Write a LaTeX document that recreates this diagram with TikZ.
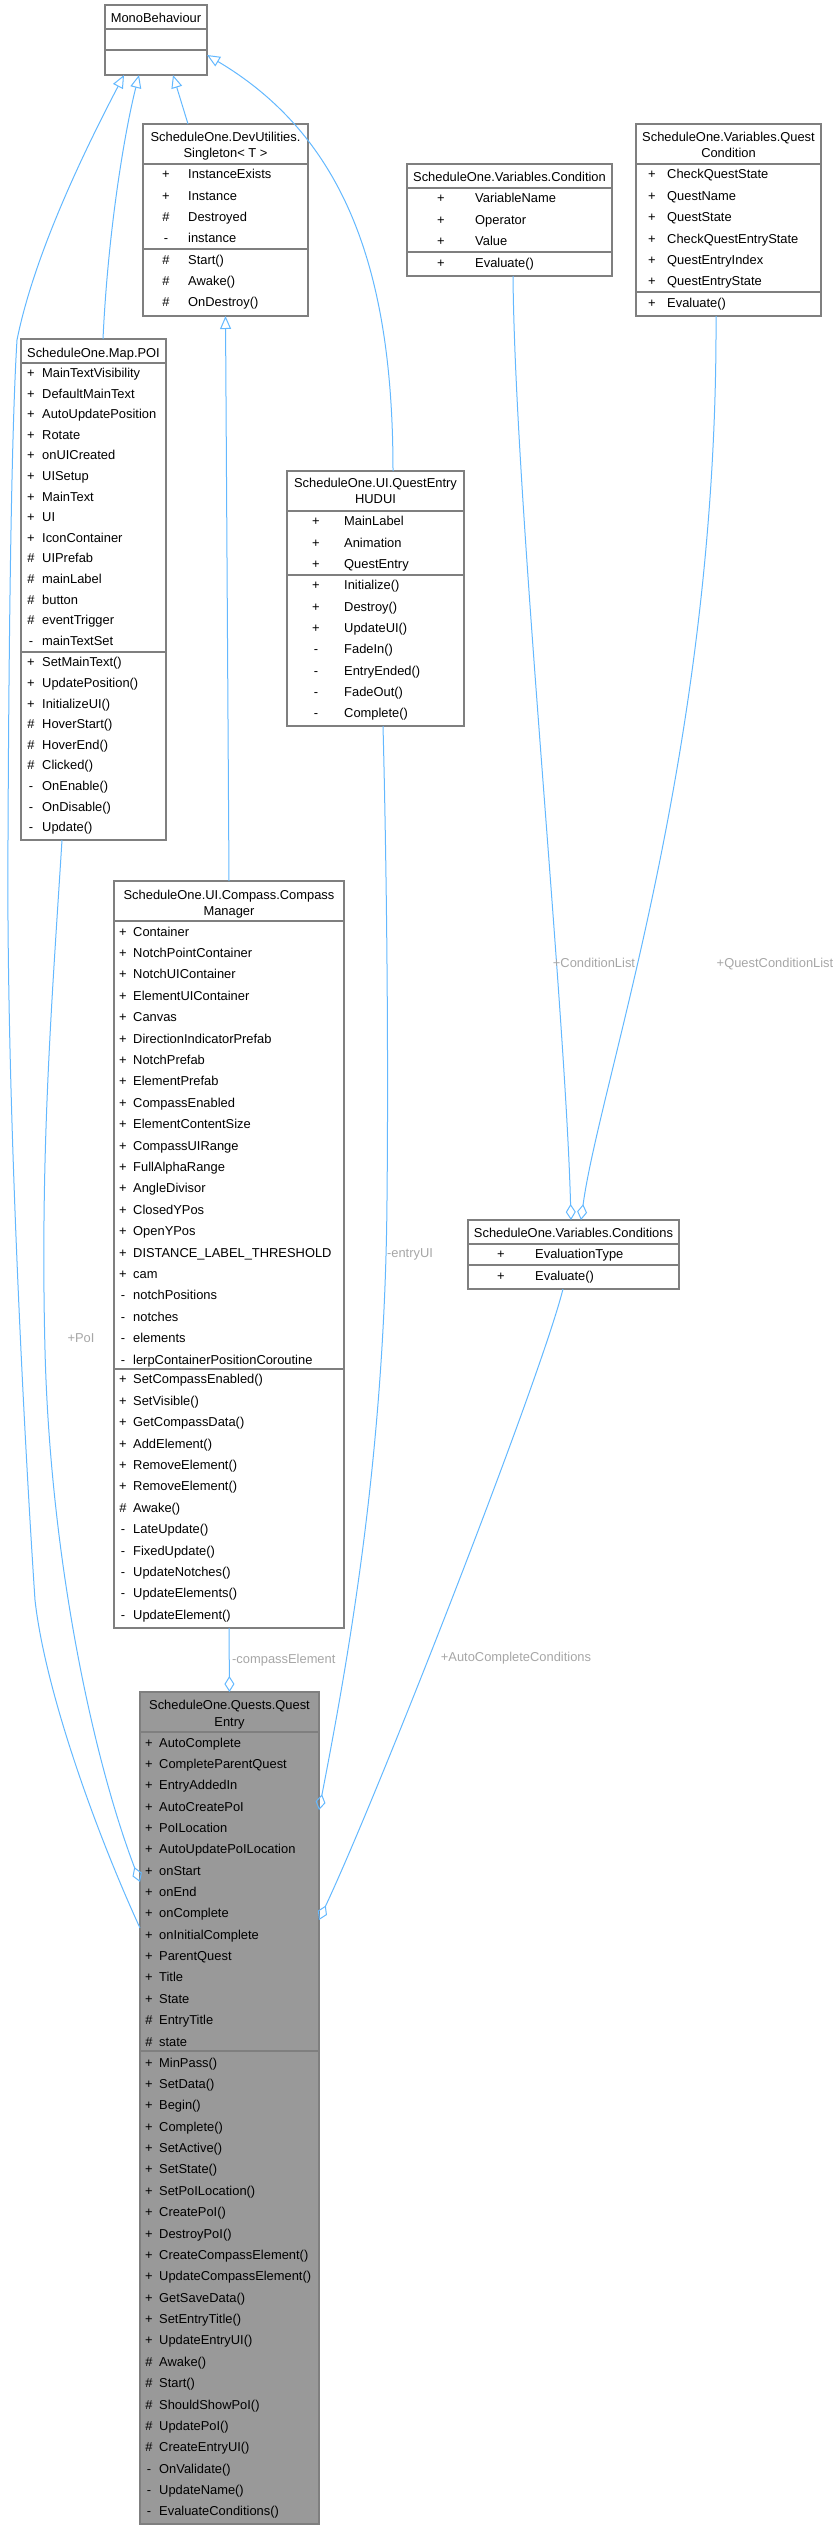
\documentclass[tikz,border=0pt]{standalone}
\usepackage{fontspec}
\setmainfont{Liberation Sans}
\usetikzlibrary{arrows.meta}
\definecolor{edgeblue}{HTML}{63B8FF}
\definecolor{boxgray}{HTML}{7F7F7F}
\definecolor{qefill}{HTML}{999999}
\definecolor{lblgray}{HTML}{A6A6A6}
\newcommand{\clsbox}[6]{\node[#6, anchor=north west, minimum width={#4-#2}, minimum height={#5-#3}] (#1) at (#2,#3) {};}
\newcommand{\sepline}[3]{\draw[sepst] (#1,#3) -- (#2,#3);}
\newcommand{\rows}[6]{\foreach[count=\ri from 0] \sy/\tx in {#5}{\node[rowst,anchor=base] (#6s\ri) at ({#1},{#3+\ri*#4+4.8}) {\sy}; \node[rowst,anchor=base west] (#6t\ri) at ({#2},{#3+\ri*#4+4.8}) {\tx};}}
\newcommand{\ttl}[4]{\node[rowst,anchor=base] (#1) at ({#2},{#3+4.8}) {#4};}
\tikzset{
  box/.style={draw=boxgray, fill=white, line width=1.2, inner sep=0, outer sep=0},
  qebox/.style={box, fill=qefill},
  sepst/.style={draw=boxgray, line width=1.2},
  rowst/.style={font=\fontsize{12.9}{15}\selectfont, inner sep=0, text=black},
  lbl/.style={font=\fontsize{12.9}{15}\selectfont, inner sep=0, text=lblgray, anchor=base},
  inh/.style={draw=edgeblue, line width=1, -{Triangle[open, length=13, width=11]}},
  agg/.style={draw=edgeblue, line width=1, {Diamond[open, length=16, width=10]}-},
}
\begin{document}
\begin{tikzpicture}[x=1pt, y=-1pt]
\useasboundingbox (0,0) rectangle (840,2529);

% ---------- boxes ----------
\clsbox{mono}{105}{5}{207}{75}{box}
\sepline{105}{207}{29}\sepline{105}{207}{50}
\ttl{monot}{156}{18}{MonoBehaviour}

\clsbox{sing}{143}{124}{308}{316}{box}
\sepline{143}{308}{164}\sepline{143}{308}{249}
\ttl{singt1}{225.5}{137}{ScheduleOne.DevUtilities.}
\ttl{singt2}{225.5}{153}{Singleton< T >}
\rows{166}{188}{174}{21.3}{+/InstanceExists,+/Instance,\#/Destroyed,-/instance}{singa}
\rows{166}{188}{259.3}{21.3}{\#/Start(),\#/Awake(),\#/OnDestroy()}{singm}

\clsbox{cond}{407}{164}{612}{276}{box}
\sepline{407}{612}{188}\sepline{407}{612}{252}
\ttl{condt}{509.5}{177}{ScheduleOne.Variables.Condition}
\rows{441}{475}{198}{21.5}{+/VariableName,+/Operator,+/Value}{conda}
\rows{441}{475}{263}{21.5}{+/Evaluate()}{condm}

\clsbox{qc}{636}{124}{821}{316}{box}
\sepline{636}{821}{164}\sepline{636}{821}{292}
\ttl{qct1}{728.5}{137}{ScheduleOne.Variables.Quest}
\ttl{qct2}{728.5}{153}{Condition}
\rows{652}{667}{174}{21.4}{+/CheckQuestState,+/QuestName,+/QuestState,+/CheckQuestEntryState,+/QuestEntryIndex,+/QuestEntryState}{qca}
\rows{652}{667}{303}{21.4}{+/Evaluate()}{qcm}

\clsbox{poi}{21}{339}{166}{840}{box}
\sepline{21}{166}{363}\sepline{21}{166}{652}
\ttl{poit}{93.5}{353}{ScheduleOne.Map.POI}
\rows{31}{42}{372.7}{20.6}{+/MainTextVisibility,+/DefaultMainText,+/AutoUpdatePosition,+/Rotate,+/onUICreated,+/UISetup,+/MainText,+/UI,+/IconContainer,\#/UIPrefab,\#/mainLabel,\#/button,\#/eventTrigger,-/mainTextSet}{poia}
\rows{31}{42}{662}{20.6}{+/SetMainText(),+/UpdatePosition(),+/InitializeUI(),\#/HoverStart(),\#/HoverEnd(),\#/Clicked(),-/OnEnable(),-/OnDisable(),-/Update()}{poim}

\clsbox{hud}{287}{471}{464}{726}{box}
\sepline{287}{464}{511}\sepline{287}{464}{575}
\ttl{hudt1}{375.5}{483}{ScheduleOne.UI.QuestEntry}
\ttl{hudt2}{375.5}{499}{HUDUI}
\rows{316}{344}{521}{21.3}{+/MainLabel,+/Animation,+/QuestEntry}{huda}
\rows{316}{344}{585}{21.3}{+/Initialize(),+/Destroy(),+/UpdateUI(),-/FadeIn(),-/EntryEnded(),-/FadeOut(),-/Complete()}{hudm}

\clsbox{cm}{114}{881}{344}{1628}{box}
\sepline{114}{344}{921}\sepline{114}{344}{1369}
\ttl{cmt1}{229}{895}{ScheduleOne.UI.Compass.Compass}
\ttl{cmt2}{229}{911}{Manager}
\rows{123}{133}{931.3}{21.4}{+/Container,+/NotchPointContainer,+/NotchUIContainer,+/ElementUIContainer,+/Canvas,+/DirectionIndicatorPrefab,+/NotchPrefab,+/ElementPrefab,+/CompassEnabled,+/ElementContentSize,+/CompassUIRange,+/FullAlphaRange,+/AngleDivisor,+/ClosedYPos,+/OpenYPos,+/DISTANCE\_LABEL\_THRESHOLD,+/cam,-/notchPositions,-/notches,-/elements,-/lerpContainerPositionCoroutine}{cma}
\rows{123}{133}{1379}{21.4}{+/SetCompassEnabled(),+/SetVisible(),+/GetCompassData(),+/AddElement(),+/RemoveElement(),+/RemoveElement(),\#/Awake(),-/LateUpdate(),-/FixedUpdate(),-/UpdateNotches(),-/UpdateElements(),-/UpdateElement()}{cmm}

\clsbox{conds}{468}{1220}{679}{1289}{box}
\sepline{468}{679}{1244}\sepline{468}{679}{1265}
\ttl{condst}{573.5}{1233}{ScheduleOne.Variables.Conditions}
\rows{501}{535}{1254}{21.4}{+/EvaluationType}{condsa}
\rows{501}{535}{1276}{21.4}{+/Evaluate()}{condsm}

\clsbox{qe}{140}{1692}{319}{2524}{qebox}
\sepline{140}{319}{1732}\sepline{140}{319}{2051}
\ttl{qet1}{229.5}{1705}{ScheduleOne.Quests.Quest}
\ttl{qet2}{229.5}{1722}{Entry}
\rows{149}{159}{1742.3}{21.35}{+/AutoComplete,+/CompleteParentQuest,+/EntryAddedIn,+/AutoCreatePoI,+/PoILocation,+/AutoUpdatePoILocation,+/onStart,+/onEnd,+/onComplete,+/onInitialComplete,+/ParentQuest,+/Title,+/State,\#/EntryTitle,\#/state}{qea}
\rows{149}{159}{2062.3}{21.37}{+/MinPass(),+/SetData(),+/Begin(),+/Complete(),+/SetActive(),+/SetState(),+/SetPoILocation(),+/CreatePoI(),+/DestroyPoI(),+/CreateCompassElement(),+/UpdateCompassElement(),+/GetSaveData(),+/SetEntryTitle(),+/UpdateEntryUI(),\#/Awake(),\#/Start(),\#/ShouldShowPoI(),\#/UpdatePoI(),\#/CreateEntryUI(),-/OnValidate(),-/UpdateName(),-/EvaluateConditions()}{qem}

% ---------- inheritance ----------
\draw[inh] ([yshift=-236pt]qe.north west) .. controls (95,1830) and (45,1690) .. (35,1600) .. controls (25,1450) and (6,1100) .. (8,840) .. controls (9,600) and (12,420) .. (17,340) .. controls (35,250) and (90,140) .. ([xshift=19pt]mono.south west);
\draw[inh] ([xshift=82pt]poi.north west) .. controls (108,230) and (125,130) .. ([xshift=34pt]mono.south west);
\draw[inh] ([xshift=45pt]sing.north west) -- ([xshift=68pt]mono.south west);
\draw[inh] ([xshift=106pt]hud.north west) .. controls (393,280) and (350,140) .. ([yshift=-50pt]mono.north east);
\draw[inh] (cm.north) -- (sing.south);

% ---------- aggregations ----------
\draw[agg] ([yshift=-190pt]qe.north west) .. controls (90,1750) and (50,1550) .. (45,1350) .. controls (40,1150) and (52,1000) .. ([xshift=41pt]poi.south west);
\draw[agg] (qe.north) -- (cm.south);
\draw[agg] ([yshift=-118pt]qe.north east) .. controls (350,1650) and (385,1450) .. (387,1200) .. controls (389,1000) and (385,800) .. ([xshift=96pt]hud.south west);
\draw[agg] ([yshift=-228pt]qe.north east) .. controls (380,1790) and (540,1380) .. ([xshift=95pt]conds.south west);
\draw[agg] ([xshift=103pt]conds.north west) .. controls (565,1000) and (515,500) .. ([xshift=106pt]cond.south west);
\draw[agg] ([xshift=113pt]conds.north west) .. controls (600,1080) and (718,750) .. ([xshift=80pt]qc.south west);

% ---------- labels ----------
\node[lbl] (lpoi) at (81,{1338+4.8}) {+PoI};
\node[lbl, anchor=base west] (lce) at (232,{1659+4.8}) {-compassElement};
\node[lbl] (lui) at (410,{1253+4.8}) {-entryUI};
\node[lbl] (lacc) at (516,{1657+4.8}) {+AutoCompleteConditions};
\node[lbl] (lcl) at (594,{963+4.8}) {+ConditionList};
\node[lbl] (lqcl) at (775,{963+4.8}) {+QuestConditionList};
\end{tikzpicture}
\end{document}
